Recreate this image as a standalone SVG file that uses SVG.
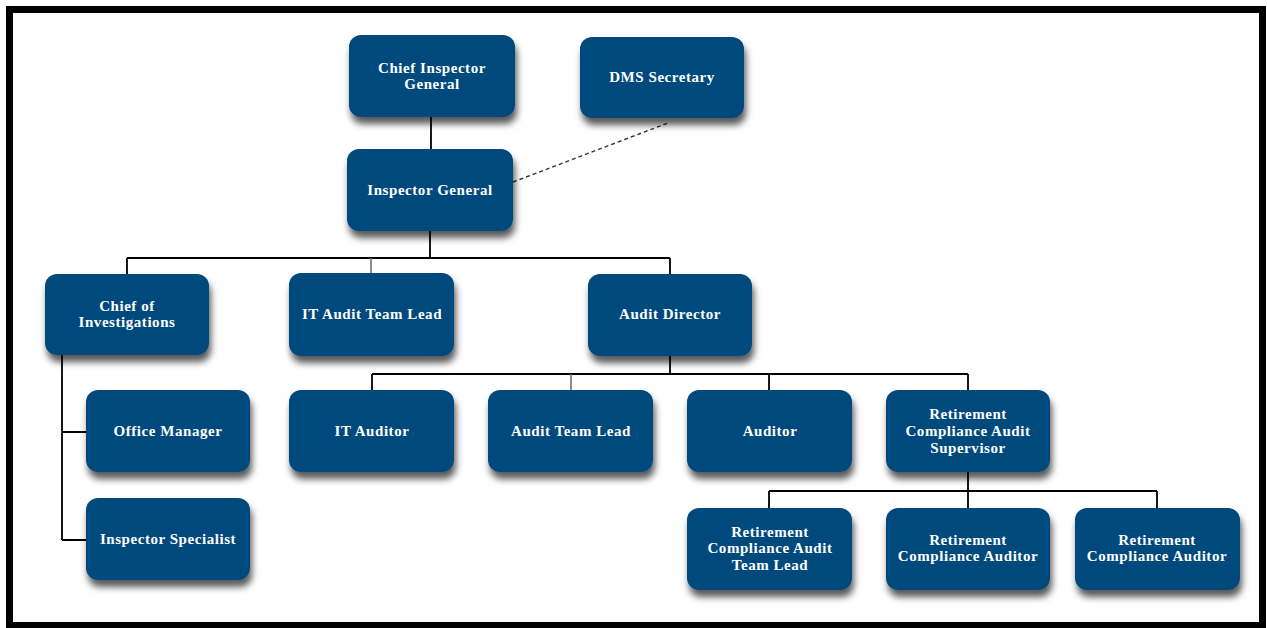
<svg xmlns="http://www.w3.org/2000/svg" width="1267" height="628" viewBox="0 0 1267 628">
<style>
.box{fill:#054A7B;filter:url(#sh)}
.t{font-family:"Liberation Serif","DejaVu Serif",serif;font-weight:bold;font-size:15px;letter-spacing:0.55px;fill:#fff;text-anchor:middle}
.c{fill:none;stroke:#000;stroke-width:1.8}
.g{fill:none;stroke:#7d6c66;stroke-width:1.6}
.d{fill:none;stroke:#333;stroke-width:1.4;stroke-dasharray:4 3}
</style>
<defs>
<filter id="sh" x="-20%" y="-20%" width="140%" height="160%">
<feDropShadow dx="2" dy="7" stdDeviation="3.5" flood-color="#000" flood-opacity="0.65"/>
</filter>
</defs>
<rect x="0" y="0" width="1267" height="628" fill="#fff"/>
<rect x="9.5" y="9.5" width="1253" height="616" fill="#fff" stroke="#000" stroke-width="7"/>
<g id="connectors">
<path class="c" d="M431 117V149"/>
<path class="c" d="M430 231V258M127 258H670M127 258V274M670 258V274"/>
<path class="g" d="M371 258V273"/>
<path class="c" d="M670 356V374M372 374H968M372 374V390M769 374V390M968 374V390"/>
<path class="g" d="M571 374V390"/>
<path class="c" d="M968 472V491M769 491H1157M769 491V508M968 491V508M1157 491V508"/>
<path class="c" d="M62 355V540M62 432H86M62 540H86"/>
<path class="d" d="M513 182L668 123"/>
</g>
<g id="chief-inspector-general"><rect class="box" x="349" y="35" width="166" height="82" rx="12"/><text class="t" x="432" y="73">Chief Inspector</text><text class="t" x="432" y="89">General</text></g>
<g id="dms-secretary"><rect class="box" x="580" y="37" width="164" height="81" rx="12"/><text class="t" x="662" y="82">DMS Secretary</text></g>
<g id="inspector-general"><rect class="box" x="347" y="149" width="166" height="82" rx="12"/><text class="t" x="430" y="195">Inspector General</text></g>
<g id="chief-of-investigations"><rect class="box" x="45" y="274" width="164" height="81" rx="12"/><text class="t" x="127" y="311">Chief of</text><text class="t" x="127" y="327">Investigations</text></g>
<g id="it-audit-team-lead"><rect class="box" x="289" y="273" width="165" height="83" rx="12"/><text class="t" x="372" y="319">IT Audit Team Lead</text></g>
<g id="audit-director"><rect class="box" x="588" y="274" width="164" height="82" rx="12"/><text class="t" x="670" y="319">Audit Director</text></g>
<g id="office-manager"><rect class="box" x="86" y="390" width="164" height="82" rx="12"/><text class="t" x="168" y="436">Office Manager</text></g>
<g id="inspector-specialist"><rect class="box" x="86" y="498" width="164" height="82" rx="12"/><text class="t" x="168" y="544">Inspector Specialist</text></g>
<g id="it-auditor"><rect class="box" x="289" y="390" width="165" height="82" rx="12"/><text class="t" x="372" y="436">IT Auditor</text></g>
<g id="audit-team-lead"><rect class="box" x="488" y="390" width="165" height="82" rx="12"/><text class="t" x="571" y="436">Audit Team Lead</text></g>
<g id="auditor"><rect class="box" x="687" y="390" width="165" height="82" rx="12"/><text class="t" x="770" y="436">Auditor</text></g>
<g id="rca-supervisor"><rect class="box" x="886" y="390" width="164" height="82" rx="12"/><text class="t" x="968" y="419">Retirement</text><text class="t" x="968" y="436">Compliance Audit</text><text class="t" x="968" y="453">Supervisor</text></g>
<g id="rca-team-lead"><rect class="box" x="687" y="508" width="165" height="82" rx="12"/><text class="t" x="770" y="537">Retirement</text><text class="t" x="770" y="553">Compliance Audit</text><text class="t" x="770" y="570">Team Lead</text></g>
<g id="rc-auditor-1"><rect class="box" x="886" y="508" width="164" height="82" rx="12"/><text class="t" x="968" y="545">Retirement</text><text class="t" x="968" y="561">Compliance Auditor</text></g>
<g id="rc-auditor-2"><rect class="box" x="1075" y="508" width="165" height="82" rx="12"/><text class="t" x="1157" y="545">Retirement</text><text class="t" x="1157" y="561">Compliance Auditor</text></g>
</svg>
